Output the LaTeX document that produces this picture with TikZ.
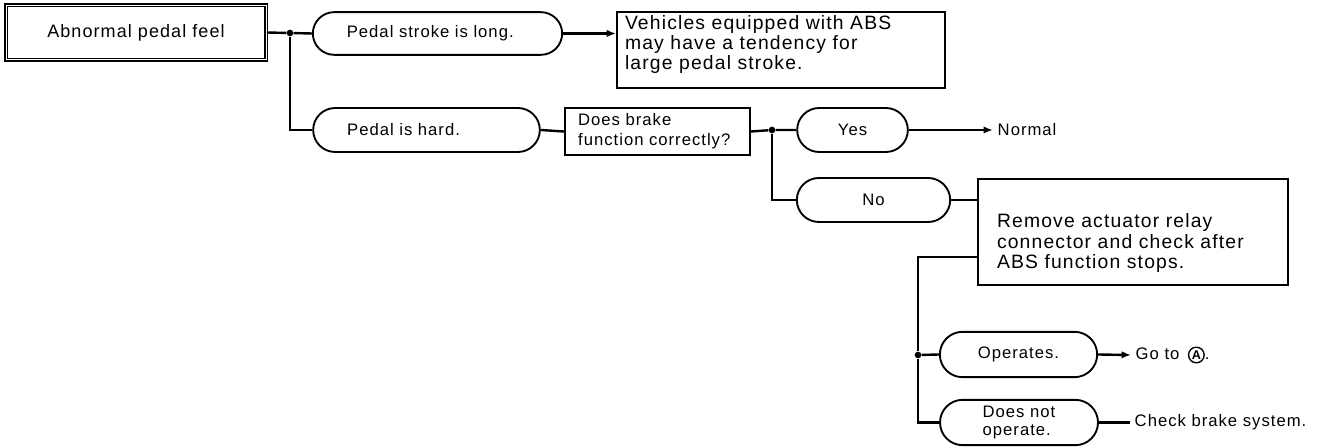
\documentclass[tikz,border=0pt]{standalone}
\usepackage{fontspec}
\setmainfont{Liberation Sans}[LetterSpace=6]
\usepackage{tikz}
\usetikzlibrary{arrows.meta,shapes.misc}

\newcommand{\circA}{\tikz[baseline=(ca.base)]\node[circle, draw, line width=1pt, inner sep=0.8pt, font=\bfseries\fontsize{9.5}{9.5}\selectfont] (ca) {A};}

\begin{document}
\begin{tikzpicture}[x=0.75pt, y=-0.75pt,
		every node/.style={font=\fontsize{12.5}{15}\selectfont},
		pill/.style={draw, rounded rectangle, line width=1.4pt, inner sep=0pt, align=center},
		box/.style={draw, rectangle, line width=1.4pt, inner sep=0pt, align=left},
		bigtext/.style={font=\fontsize{14.5}{15}\selectfont},
		link/.style={line width=1.8pt},
		arr/.style={link, -{Latex[length=7pt,width=5.5pt]}},
		dot/.style={circle, fill, inner sep=0pt, minimum size=5pt}]
			\useasboundingbox (0,0) rectangle (1324,448);
			
			\node[box, double, double distance=0.6pt, line width=1.4pt, minimum width=195pt, minimum height=41pt, font=\fontsize{13.5}{15}\selectfont] (feel) at (136,32.5) {Abnormal pedal feel};
			\node[dot] (j1) at (290,33) {};
			\node[pill, align=left, text width=136pt, minimum width=187pt, minimum height=32pt] (long) at (437.5,33.5) {Pedal stroke is long.};
			\node[pill, align=left, text width=119pt, minimum width=170pt, minimum height=33pt] (hard) at (426.5,130) {Pedal is hard.};
			\node[box, bigtext, minimum width=246pt, minimum height=57pt] (abs) at (781,50) {\raisebox{0pt}[\height][\dimexpr\depth+7pt]{\begin{tabular}{@{}p{234pt}@{}}Vehicles equipped with ABS\\may have a tendency for\\large pedal stroke.\end{tabular}}};
			\node[box, text width=119pt, minimum width=139pt, minimum height=35pt] (func) at (657.5,131.5) {Does brake\\function correctly?};
			
			\node[dot] (j2) at (772,130) {};
			\node[pill, minimum width=83pt, minimum height=33pt] (yes) at (852.5,130) {Yes};
			\node[pill, minimum width=115pt, minimum height=33pt] (no) at (873.5,200) {No};
			\node[anchor=west] (normal) at (993,130) {Normal};
			\node[box, bigtext, minimum width=232.5pt, minimum height=79.5pt] (relay) at (1133,232) {\raisebox{0pt}[\dimexpr\height+18pt][\depth]{\begin{tabular}{@{}p{204pt}@{}}Remove actuator relay\\connector and check after\\ABS function stops.\end{tabular}}};
			
			\coordinate (tap) at (978,257);
			\node[dot] (j3) at (918,355) {};
			\node[pill, minimum width=118pt, minimum height=34pt] (ops) at (1018.5,354.5) {Operates.};
			\node[pill, minimum width=118.5pt, minimum height=34pt] (notop) at (1019,422.5) {\begin{tabular}{@{}l@{}}Does not\\[-2pt]operate.\end{tabular}};
			\node[anchor=west] (goto) at (1131,355) {Go to\, \circA.};
			\node[anchor=west] (check) at (1130,422.5) {Check brake system.};
			
			\draw[link] (feel.east) -- (j1) -- (long.west);
			\draw[link] (j1) |- (hard.west);
			\draw[arr] (long.east) -- (long.east -| abs.west);
			\draw[link] (hard.east) -- (func.west);
			\draw[link] (func.east) -- (j2) -- (yes.west);
			\draw[link] (j2) |- (no.west);
			\draw[arr] (yes.east) -- (normal.west);
			\draw[link] (no.east) -- (no.east -| relay.west);
			\draw[link] (tap) -| (j3);
			\draw[link] (j3) |- (notop.west);
			\draw[link] (j3) -- (ops.west);
			\draw[arr] (ops.east) -- (goto.west);
			\draw[link] (notop.east) -- (check.west);
\end{tikzpicture}
\end{document}
